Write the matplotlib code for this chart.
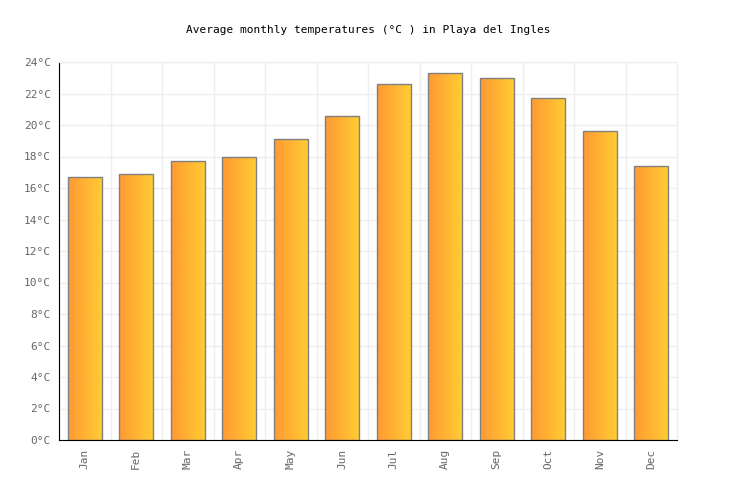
import numpy as np
import matplotlib
matplotlib.use('Agg')
import matplotlib.pyplot as plt
from matplotlib.colors import LinearSegmentedColormap

months = ['Jan', 'Feb', 'Mar', 'Apr', 'May', 'Jun',
          'Jul', 'Aug', 'Sep', 'Oct', 'Nov', 'Dec']
temps = [16.7, 16.9, 17.7, 18.0, 19.1, 20.6, 22.6, 23.3, 23.0, 21.7, 19.6, 17.4]
yticks = list(range(0, 25, 2))

plt.rcParams['font.family'] = ['DejaVu Sans Mono']

fig = plt.figure(figsize=(7.36, 5), dpi=100)
ax = fig.add_axes([59 / 736, 60 / 500, 618 / 736, 378 / 500])

x = np.arange(len(months))
bars = ax.bar(x, temps, width=0.66, color='none', edgecolor='#808080', linewidth=1, zorder=3)

# horizontal orange gradient inside each bar
cmap = LinearSegmentedColormap.from_list('warm', ['#ff9933', '#ffcc33'])
grad = np.linspace(0, 1, 64).reshape(1, -1)
for b in bars:
    im = ax.imshow(grad, cmap=cmap, aspect='auto', zorder=2,
                   extent=[b.get_x(), b.get_x() + b.get_width(), 0, b.get_height()])
    im.set_clip_path(b)

ax.set_xlim(-0.5, len(months) - 0.5)
ax.set_ylim(0, 24)
ax.set_xticks(x)
ax.set_xticklabels(months, rotation=90)
ax.set_yticks(yticks)
ax.set_yticklabels([f'{t}°C' for t in yticks])
ax.tick_params(length=0, labelsize=8, colors='#666666', pad=6)

# grid lines at category boundaries and every 2 degrees
ax.set_xticks(np.arange(-0.5, len(months), 1), minor=True)
ax.grid(which='minor', axis='x', color='#eeeeee', linewidth=1, zorder=0)
ax.grid(which='major', axis='y', color='#eeeeee', linewidth=1, zorder=0)
ax.tick_params(which='minor', length=0)

for s in ['top', 'right']:
    ax.spines[s].set_color('#eeeeee')
ax.spines['left'].set_color('black')
ax.spines['bottom'].set_color('black')

fig.suptitle('Average monthly temperatures (°C ) in Playa del Ingles',
             y=0.95, fontsize=8, color='black')

fig.savefig('out.png', dpi=100)
